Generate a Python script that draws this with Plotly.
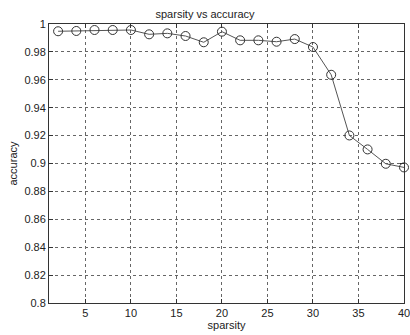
import plotly.graph_objects as go

sparsity = [2, 4, 6, 8, 10, 12, 14, 16, 18, 20, 22, 24, 26, 28, 30, 32, 34, 36, 38, 40]
accuracy = [0.9948, 0.9950, 0.9957, 0.9957, 0.9957, 0.9926, 0.9933, 0.9914, 0.9869, 0.9945,
            0.9883, 0.9883, 0.9873, 0.9892, 0.9835, 0.9636, 0.9201, 0.9101, 0.8998, 0.8972]
x_ticks = [5, 10, 15, 20, 25, 30, 35, 40]
y_ticks = [0.8, 0.82, 0.84, 0.86, 0.88, 0.9, 0.92, 0.94, 0.96, 0.98, 1.0]
y_ticklabels = ["0.8", "0.82", "0.84", "0.86", "0.88", "0.9", "0.92", "0.94", "0.96", "0.98", "1"]

fig = go.Figure()
fig.add_trace(go.Scatter(
    x=sparsity, y=accuracy, mode="lines+markers",
    line=dict(color="#555555", width=1),
    marker=dict(symbol="circle-open", size=9, color="#333333", line=dict(width=1)),
    showlegend=False, cliponaxis=False,
))

font = dict(family="Liberation Sans, Arial, sans-serif", size=11, color="#222222")
fig.update_layout(
    width=410, height=335,
    margin=dict(l=49, r=6, t=24, b=32, autoexpand=False),
    paper_bgcolor="white", plot_bgcolor="white",
    font=font,
    title=dict(text="sparsity vs accuracy", x=0.5, xanchor="center", y=0.958, yanchor="middle",
               font=dict(size=11)),
)
fig.update_xaxes(
    range=[1, 40], tickvals=x_ticks, ticks="inside", ticklen=4, tickcolor="#333",
    ticklabeloverflow="allow", automargin=False,
    showline=True, linecolor="#333", linewidth=1, mirror="ticks",
    showgrid=True, gridcolor="#666", griddash="dot", gridwidth=1, zeroline=False,
    title=dict(text="sparsity", standoff=0, font=dict(size=11)),
)
fig.update_yaxes(
    range=[0.8, 1.0], tickvals=y_ticks, ticktext=y_ticklabels, ticks="inside", ticklen=4, tickcolor="#333",
    automargin=False,
    showline=True, linecolor="#333", linewidth=1, mirror="ticks",
    showgrid=True, gridcolor="#666", griddash="dot", gridwidth=1, zeroline=False,
    title=dict(text="accuracy", standoff=4, font=dict(size=11)),
)
fig.write_html("out.html", config={"displayModeBar": False},
               post_script="document.body.style.margin='0';document.body.style.overflow='hidden';")
